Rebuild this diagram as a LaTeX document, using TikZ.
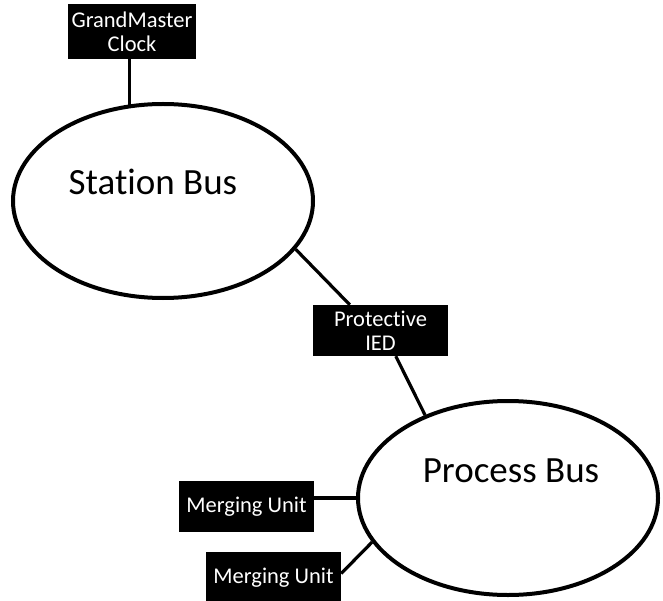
\documentclass[tikz,border=0pt]{standalone}
\usepackage{fontspec}
\setmainfont{Carlito}[Ligatures=NoCommon]
\usetikzlibrary{shapes.geometric,calc}

\tikzset{
  busring/.style={ellipse, draw=black, line width=4pt, inner sep=0pt,
    minimum width=300pt, minimum height=194pt},
  buslabel/.style={anchor=base, inner sep=0pt, font=\fontsize{37}{40}\selectfont},
  devbox/.style={rectangle, fill=black, text=white, inner sep=0pt, align=center,
    minimum height=51pt, font=\fontsize{22.5}{24}\selectfont},
  wire/.style={draw=black, line width=3.2pt}
}

\begin{document}
\begin{tikzpicture}[x=1pt, y=-1pt]
  \useasboundingbox (0,0) rectangle (663,601);

  % the two buses
  \node[busring] (sb) at (163,201) {};
  \node[busring] (pb) at (508,498) {};
  \node[buslabel] (sbt) at (153,195) {Station Bus};
  \node[buslabel] (pbt) at (511,482) {Process Bus};

  % devices
  \node[devbox, minimum width=128pt, minimum height=55pt] (gm) at (132,31.5) {GrandMaster\\Clock};
  \node[devbox, minimum width=135pt] (ied) at (380.5,330.5) {Protective\\IED};
  \node[devbox, minimum width=135pt] (mu1) at (246.5,506.5) {Merging Unit};
  \node[devbox, minimum width=135pt] (mu2) at (273.5,577.5) {Merging Unit};

  % attachment points on the device boxes
  \coordinate (gmfoot) at ($(gm.south west)+(62,0)$);
  \coordinate (gmtop) at ($(gmfoot |- sb.north)+(0,3)$);
  \coordinate (iedtop) at ($(ied.north west)+(37,0)$);
  \coordinate (iedfoot) at ($(ied.south west)+(83,0)$);
  \coordinate (mu2port) at ($(mu2.east)+(0,-4)$);

  % links
  \draw[wire] (gmfoot) -- (gmtop);
  \draw[wire] (sb.-20) -- (iedtop);
  \draw[wire] (iedfoot) -- (pb.135.7);
  \draw[wire] (mu1.east |- pb.west) -- (pb.west);
  \draw[wire] (mu2port) -- (pb.198);
\end{tikzpicture}
\end{document}
